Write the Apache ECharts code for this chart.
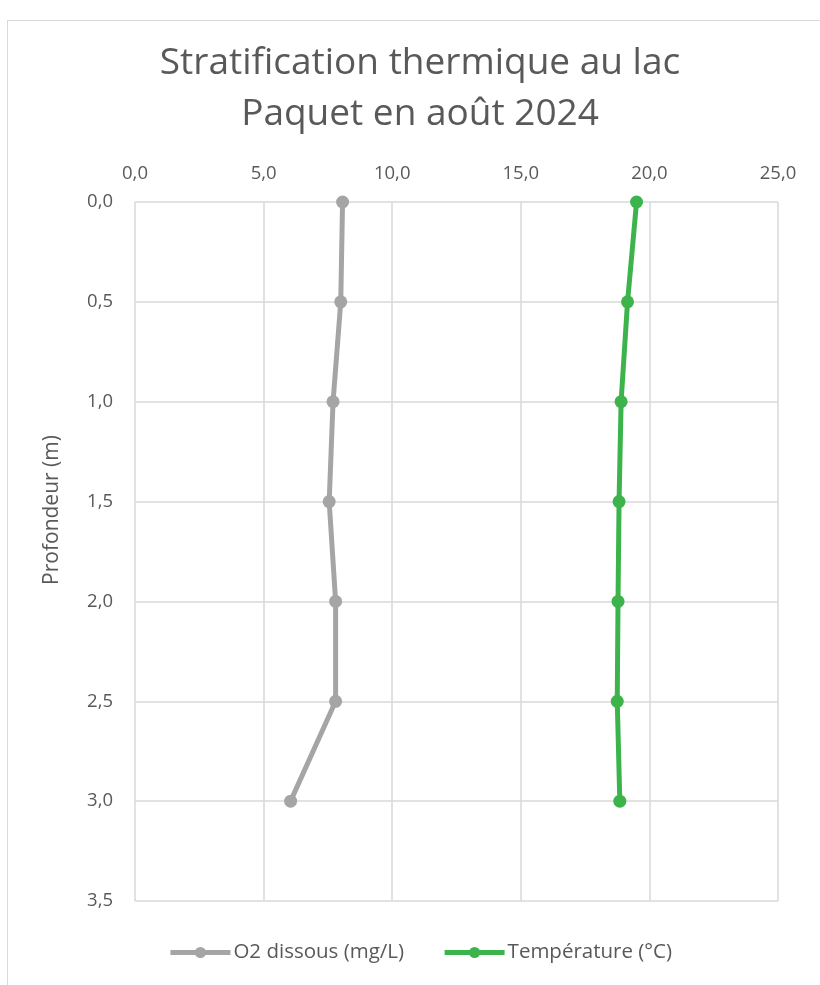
<!DOCTYPE html>
<html>
<head>
<meta charset="utf-8">
<script src="https://cdn.jsdelivr.net/npm/echarts@6/dist/echarts.min.js"></script>
<style>
  html, body { margin: 0; padding: 0; background: #fff; overflow: hidden; }
  #frame {
    position: absolute; left: 7px; top: 20px; width: 830px; height: 990px;
    border: 1px solid #d9d9d9; box-sizing: border-box;
  }
  #chart { position: absolute; left: 0; top: 0; width: 840px; height: 985px; }
</style>
</head>
<body>
<div id="frame"></div>
<div id="chart"></div>
<script>
// profondeur (m)
const depths = [0, 0.5, 1.0, 1.5, 2.0, 2.5, 3.0];
// O2 dissous (mg/L)
const oxygen = [8.07, 8.0, 7.7, 7.55, 7.8, 7.8, 6.05];
// Température (°C)
const temperature = [19.5, 19.15, 18.9, 18.82, 18.78, 18.75, 18.85];

const seriesNames = ["O2 dissous (mg/L)", "Température (°C)"];
const seriesColors = ["#a5a5a5", "#3cb44b"];

const fmt = (v) => v.toFixed(1).replace(".", ",");
const textColor = "#595959";
const font = "'Open Sans', sans-serif";

const chart = echarts.init(document.getElementById("chart"));

const makeSeries = (name, values, color) => ({
  name: name,
  type: "line",
  data: values.map((v, i) => [v, depths[i]]),
  symbol: "circle",
  symbolSize: 13,
  lineStyle: { width: 5, color: color },
  itemStyle: { color: color },
  emphasis: { disabled: true },
});

chart.setOption({
  animation: false,
  title: {
    text: "Stratification thermique au lac\nPaquet en août 2024",
    left: "center",
    top: 33,
    textStyle: {
      fontFamily: font,
      fontSize: 37,
      fontWeight: "normal",
      color: textColor,
      lineHeight: 51,
    },
  },
  grid: { left: 135, right: 62, top: 202, bottom: 84 },
  xAxis: {
    type: "value",
    position: "top",
    min: 0,
    max: 25,
    interval: 5,
    axisLine: { show: false },
    axisTick: { show: false },
    splitLine: { lineStyle: { color: "#d9d9d9", width: 1.5 } },
    axisLabel: {
      formatter: fmt,
      color: textColor,
      fontFamily: font,
      fontSize: 18.5,
      margin: 19,
    },
  },
  yAxis: {
    type: "value",
    inverse: true,
    min: 0,
    max: 3.5,
    interval: 0.5,
    axisLine: { show: false },
    axisTick: { show: false },
    splitLine: { lineStyle: { color: "#d9d9d9", width: 1.5 } },
    axisLabel: {
      formatter: fmt,
      color: textColor,
      fontFamily: font,
      fontSize: 18.5,
      margin: 22,
    },
  },
  legend: {
    bottom: 17,
    left: "center",
    itemWidth: 60,
    itemHeight: 14,
    itemGap: 38,
    lineStyle: { width: 5 },
    textStyle: { color: textColor, fontFamily: font, fontSize: 20.5, padding: [0, 0, 0, -2] },
    data: seriesNames,
  },
  graphic: [
    {
      type: "text",
      x: 52,
      y: 510,
      rotation: Math.PI / 2,
      style: {
        text: "Profondeur (m)",
        fill: textColor,
        font: "21px " + font,
        align: "center",
        verticalAlign: "middle",
      },
    },
  ],
  series: [
    makeSeries(seriesNames[0], oxygen, seriesColors[0]),
    makeSeries(seriesNames[1], temperature, seriesColors[1]),
  ],
});
</script>
</body>
</html>
